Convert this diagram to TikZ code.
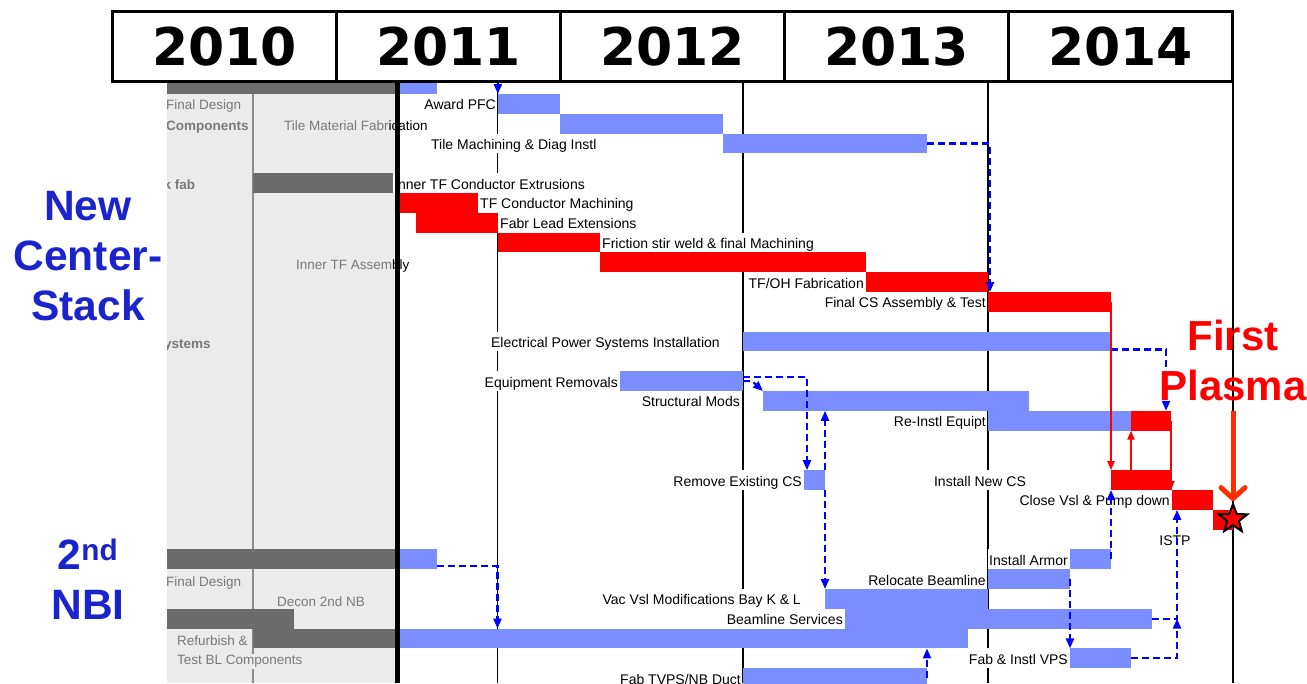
\documentclass[tikz,border=0pt]{standalone}
\usepackage{fontspec}
\setmainfont{Liberation Sans}
\newfontfamily\yearfont{DejaVu Sans}
\usetikzlibrary{positioning}
\usetikzlibrary{arrows.meta}
\usetikzlibrary{shapes.geometric}
\usepackage{xcolor}

\definecolor{barblue}{RGB}{122,142,255}
\definecolor{barred}{RGB}{255,0,0}
\definecolor{sumgray}{RGB}{108,108,108}
\definecolor{panelbg}{RGB}{235,235,235}
\definecolor{panelfg}{RGB}{122,122,122}
\definecolor{panelline}{RGB}{140,140,140}
\definecolor{depblue}{RGB}{0,0,255}
\definecolor{titleblue}{RGB}{26,35,204}
\definecolor{fpred}{RGB}{255,45,0}

\begin{document}
\begin{tikzpicture}[x=1pt,y=-1pt,
  ganttbar/.style={anchor=north west, inner sep=0pt, outer sep=0pt, minimum height=19.8pt},
  bluebar/.style={ganttbar, fill=barblue},
  redbar/.style={ganttbar, fill=barred},
  summarybar/.style={ganttbar, fill=sumgray},
  tasklabel/.style={fill=white, inner xsep=1pt, inner ysep=0pt, minimum height=19.8pt, text height=14pt, text depth=2pt, font=\fontsize{14}{16}\selectfont},
  paneltext/.style={anchor=west, inner sep=0pt, text height=10pt, text depth=0pt, text=panelfg, font=\fontsize{13.5}{16}\selectfont},
  dep/.style={draw=depblue, line width=2.2pt, dash pattern=on 7pt off 4pt, -{Triangle[length=10pt,width=8pt]}},
  redlink/.style={draw=barred, line width=2pt, -{Triangle[length=9pt,width=7pt]}},
  yearcell/.style={draw, line width=3pt, fill=white, anchor=north west, minimum width=224pt, minimum height=70pt, inner sep=0pt, font=\yearfont\bfseries\fontsize{52}{60}\selectfont},
  titletext/.style={text=titleblue, align=center, inner sep=0pt, font=\bfseries\fontsize{42.5}{50}\selectfont}
]
\clip (0,0) rectangle (1307,683);
\fill[white] (0,0) rectangle (1307,683);

%left panel
\fill[panelbg] (167,80) rectangle (395,683);
\draw[panelline, line width=1.5pt] (253,80) -- (253,683);

\node[summarybar, minimum width=228pt] (pfcsum) at (167,74.2) {};
\node[summarybar, minimum width=142pt] (cssum) at (253,173.2) {};
\node[summarybar, minimum width=228pt] (nbisum) at (167,549.4) {};
\node[summarybar, minimum width=127pt] (deconsum) at (167,608.8) {};
\node[summarybar, minimum width=142pt] (refurbsum) at (253,628.6) {};

%year lines
\coordinate (x2011) at (497.5,80);
\foreach \x in {497.5,743,988,1233}
  \draw[line width=1.3pt] (\x,80) -- (\x,683);

%center stack bars
\node[bluebar, minimum width=37pt] (pfcdesign) at (400,74.2) {};
\node[bluebar, minimum width=62pt] (award) at (498,94) {};
\node[bluebar, minimum width=163pt] (tilefab) at (560,113.8) {};
\node[bluebar, minimum width=204pt] (tilemach) at (723,133.6) {};
\node[redbar, minimum width=78pt] (tfmach) at (400,193) {};
\node[redbar, minimum width=82pt] (leadext) at (416,212.8) {};
\node[redbar, minimum width=102pt] (fsw) at (498,232.6) {};
\node[redbar, minimum width=266pt] (tfasm) at (600,252.4) {};
\node[redbar, minimum width=122pt] (tfoh) at (866,272.2) {};
\node[redbar, minimum width=123pt] (finalcs) at (988,292) {};
\node[bluebar, minimum width=368pt] (elec) at (743,331.6) {};
\node[bluebar, minimum width=123pt] (eqrem) at (620,371.2) {};
\node[bluebar, minimum width=266pt] (structmods) at (763,391) {};
\node[bluebar, minimum width=143pt] (reinstl) at (988,410.8) {};
\node[redbar, minimum width=40pt] (reinstlr) at (1131,410.8) {};
\node[bluebar, minimum width=21pt] (remcs) at (804,470.2) {};
\node[redbar, minimum width=61pt] (installcs) at (1111,470.2) {};
\node[redbar, minimum width=41pt] (closevsl) at (1172,490) {};
\node[redbar, minimum width=20pt] (istp) at (1213,509.8) {};

%2nd NBI bars
\node[bluebar, minimum width=37pt] (nbidesign) at (400,549.4) {};
\node[bluebar, minimum width=41pt] (armor) at (1070,549.4) {};
\node[bluebar, minimum width=82pt] (reloc) at (988,569.2) {};
\node[bluebar, minimum width=163pt] (vacvsl) at (825,589) {};
\node[bluebar, minimum width=307pt] (beamsvc) at (845,608.8) {};
\node[bluebar, minimum width=568pt] (refurb) at (400,628.6) {};
\node[bluebar, minimum width=61pt] (vps) at (1070,648.4) {};
\node[bluebar, minimum width=184pt] (tvps) at (743,668.2) {};

%task labels
\node[tasklabel, left=1pt of award] (awardlbl) {Award PFC};
\node[tasklabel, anchor=west] (tilemachlbl) at (430,143.5) {Tile Machining \& Diag Instl};
\node[tasklabel, anchor=west] (extrlbl) at (393,183.1) {Inner TF Conductor Extrusions};
\node[tasklabel, right=1pt of tfmach] (tfmachlbl) {TF Conductor Machining};
\node[tasklabel, right=1pt of leadext] (leadextlbl) {Fabr Lead Extensions};
\node[tasklabel, right=1pt of fsw] (fswlbl) {Friction stir weld \& final Machining};
\node[tasklabel, left=1pt of tfoh] (tfohlbl) {TF/OH Fabrication};
\node[tasklabel, left=1pt of finalcs] (finalcslbl) {Final CS Assembly \& Test};
\node[tasklabel, anchor=east] (eleclbl) at (721,341.5) {Electrical Power Systems Installation};
\node[tasklabel, left=1pt of eqrem] (eqremlbl) {Equipment Removals};
\node[tasklabel, anchor=east] (structlbl) at (741,400.9) {Structural Mods};
\node[tasklabel, left=1pt of reinstl] (reinstllbl) {Re-Instl Equipt};
\node[tasklabel, left=1pt of remcs] (remcslbl) {Remove Existing CS};
\node[tasklabel] (installcslbl) at (980,480.1) {Install New CS};
\node[tasklabel, left=1pt of closevsl] (closevsllbl) {Close Vsl \& Pump down};
\node[tasklabel] (istplbl) at (1175,539.5) {ISTP};
\node[tasklabel, left=1pt of armor] (armorlbl) {Install Armor};
\node[tasklabel, left=1pt of reloc] (reloclbl) {Relocate Beamline};
\node[tasklabel, anchor=east] (vacvsllbl) at (802,598.9) {Vac Vsl Modifications Bay K \& L};
\node[tasklabel, left=1pt of beamsvc] (beamsvclbl) {Beamline Services};
\node[tasklabel, left=1pt of vps] (vpslbl) {Fab \& Instl VPS};
\node[tasklabel, left=1pt of tvps] (tvpslbl) {Fab TVPS/NB Duct};

%panel labels
\begin{scope}
\clip (167,80) rectangle (400,683);
\node[paneltext] (pfcfd) at (166,104) {Final Design};
\node[paneltext, font=\bfseries\fontsize{13.5}{16}\selectfont] (pfccomp) at (166,125) {Components};
\node[paneltext, font=\bfseries\fontsize{13.5}{16}\selectfont] (csfab) at (163.5,184) {k fab};
\node[paneltext, font=\bfseries\fontsize{13.5}{16}\selectfont] (pssys) at (164,343) {ystems};
\node[paneltext] (nbifd) at (166,581) {Final Design};
\end{scope}
\node[paneltext] (tilefablbl) at (284,125) {Tile Material Fabr\textcolor{black}{ication}};
\node[paneltext] (tfasmlbl) at (296,264) {Inner TF Assem\textcolor{black}{bly}};
\node[paneltext] (deconlbl) at (277,601) {Decon 2nd NB};
\node[paneltext] (refurblbl) at (177,640) {Refurbish \&};
\node[paneltext, fill=panelbg, inner ysep=1pt, text depth=3pt] (testbllbl) at (177,661) {Test BL Components};

\draw[line width=5pt] (397.5,80) -- (397.5,683);

%dependencies
\coordinate (pfcin) at (497.5,60);
\draw[dep] (pfcin) -- (award.north west);
\draw[dep] (tilemach.east) -| ([xshift=2pt]finalcs.north west);
\draw[dep] ([yshift=2pt]elec.south east) -| ([xshift=-5pt]reinstlr.north east);
\draw[dep] ([yshift=4pt]eqrem.east) -| ([xshift=3pt]remcs.north west);
\draw[dep] (eqrem.east) -- ++(9,0) -- (structmods.north west);
\draw[dep] (remcs.north east) -- (remcs.north east |- structmods.south);
\draw[dep] (remcs.south east) -- (remcs.south east |- vacvsl.north);
\draw[redlink] (finalcs.east) -- (finalcs.east |- installcs.north);
\draw[redlink] (reinstlr.south west |- installcs.north) -- (reinstlr.south west);
\draw[redlink] (reinstlr.east) -- (reinstlr.east |- closevsl.north);
\draw[dep] (armor.east) -- (armor.east |- installcs.south);
\draw[dep] (reloc.east) -- (reloc.east |- vps.north);
\coordinate (istpx) at ([xshift=5pt]closevsl.south west);
\draw[dep] (beamsvc.east) -| (istpx);
\draw[dep] (vps.east) -| (istpx |- beamsvc.east);
\draw[dep] (tvps.east) -- (tvps.east |- refurb.south);
\draw[dep] ([yshift=-7pt]nbidesign.east) -| (x2011 |- refurb.north);

%first plasma
\node[text=barred, align=center, inner sep=0pt, anchor=north, font=\bfseries\fontsize{42}{50}\selectfont] (fptitle) at (1233,320) {First\\Plasma};
\node[star, star points=5, star point ratio=2.4, minimum size=30pt, inner sep=0pt, draw=black, line width=2pt, fill=barred] (fpstar) at (1233,519) {};
\draw[fpred, line width=5pt, -{Straight Barb[length=11pt,width=24pt,round]}] ([yshift=-10pt]fptitle.south) -- (fpstar.north);

%titles
\node[titletext, anchor=north] (cstitle) at (88,191) {New\\Center-\\Stack};
\node[titletext, anchor=north] (nbititle) at (88,539) {2\textsuperscript{nd}\\NBI};

%year header
\foreach \yr [count=\i from 0] in {2010,2011,2012,2013,2014}
  \node[yearcell] (yr\yr) at ({111+224*\i},10) {\yr};

\end{tikzpicture}
\end{document}
